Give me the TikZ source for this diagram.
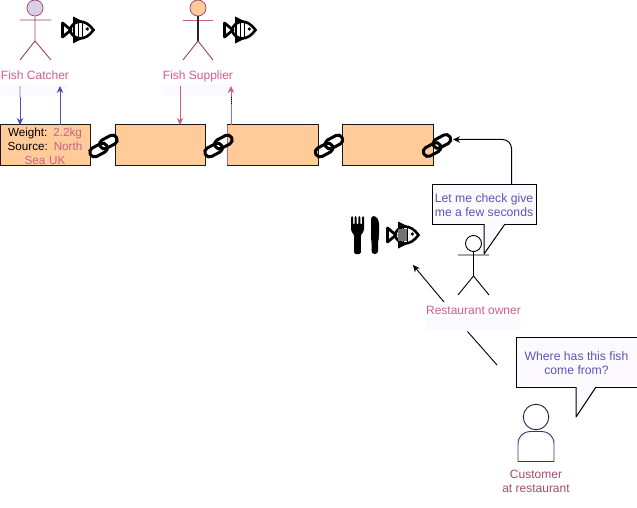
\documentclass[tikz,border=0pt]{standalone}
\usepackage{fontspec}
\setmainfont{Liberation Sans}
\usetikzlibrary{arrows.meta}
\definecolor{boxfill}{HTML}{FFCC99}
\definecolor{rolepink}{HTML}{CC5F8A}
\definecolor{speechblue}{HTML}{5A55B5}
\definecolor{arrowblue}{HTML}{4A4FB0}
\definecolor{faint}{HTML}{FDFAFF}
\definecolor{stickmix}{HTML}{9C3F6E}
\tikzset{
  x=1pt,y=-1pt,
  chainbox/.style={draw=black!90,line width=1pt,fill=boxfill,minimum width=90pt,minimum height=40pt,inner sep=0pt,outer sep=0pt,anchor=north west,font=\fontsize{11.7}{14}\selectfont,align=center,text width=90pt},
  rolelabel/.style={text=rolepink,font=\fontsize{12}{14}\selectfont,align=center,inner sep=0pt},
  speech/.style={draw=black,line width=1pt,fill=faint,inner sep=0pt,outer sep=0pt,anchor=north west,text=speechblue,font=\fontsize{12.2}{14.5}\selectfont,align=center},
  tip/.style={-{Stealth[length=7pt,width=6.5pt]}},
  conn/.style={line width=0.9pt,tip},
  stick/.style={line width=0.9pt},
  chainicon/.pic={
    \begin{scope}[rotate=28,line width=3pt,rounded corners=4.5pt,black]
      \draw (-15.5,-3.5) rectangle (3,6);
      \draw (-3,-6) rectangle (15.5,3.5);
    \end{scope}},
  fishicon/.pic={
    \draw[line width=2.8pt,line join=round] (-14.5,-7) -- (-6,0) -- (-14.5,7) -- cycle;
    \draw[line width=2.6pt] (-7,-1) .. controls (-3,-10) and (8,-12) .. (16.5,0) .. controls (8,12) and (-3,10) .. (-7,1);
    \draw[line width=1.5pt] (-3,-7) -- (-3,7) (1.3,-9) -- (1.3,9) (5.6,-9) -- (5.6,9);
    \fill (-4,-13.5) -- (7,-8) -- (-4,-7) -- cycle;
    \fill (-4,13.5) -- (7,8) -- (-4,7) -- cycle;
    \fill (10.3,-1) circle (1.8);},
  cutleryicon/.pic={
    \fill[rounded corners=1.5pt] (0,0) -- (2,0) -- (2,9) -- (3.6,9) -- (3.6,0) -- (5.7,0) -- (5.7,9) -- (7.3,9) -- (7.3,0) -- (9.4,0) -- (9.4,9) -- (11,9) -- (11,0) -- (13,0) -- (13,15) -- (9.8,19) -- (9.8,38) -- (3.2,38) -- (3.2,19) -- (0,15) -- cycle;
    \fill[rounded corners=3pt] (20,0) -- (25,0) -- (28,5) -- (28,22) -- (27,24) -- (27,38) -- (20.5,38) -- (20.5,24) -- (20,22) -- cycle;}
}
\begin{document}
\begin{tikzpicture}[x=1pt,y=-1pt]
\useasboundingbox (0,0) rectangle (637,508);
\fill[white] (0,0) rectangle (637,508);
% faint label backgrounds
\fill[faint] (1,84) rectangle (68,96);
\fill[faint] (163,84) rectangle (232,96);
\fill[faint] (426,318) rectangle (521,330);
% boxes
\node[chainbox] (boxA) at (0,125) {\rule{0pt}{11pt}Weight: \textcolor{rolepink}{2.2kg}\\Source: \textcolor{rolepink}{North}\\\textcolor{rolepink}{Sea UK}};
\node[chainbox] (boxB) at (115,125) {};
\node[chainbox,minimum width=91pt,text width=91pt] (boxC) at (227,125) {};
\node[chainbox,minimum width=91pt,text width=91pt] (boxD) at (342,125) {};
\draw[rolepink,line width=0.9pt] (boxC.north west) -- (boxC.south west);
% chain links
\pic (linkA) at (103.5,146) {chainicon};
\pic (linkB) at (218.5,146) {chainicon};
\pic (linkC) at (329,146) {chainicon};
\pic (linkD) at (437,145.5) {chainicon};
% stick figures
\node[circle,draw=stickmix,fill=rolepink!25!speechblue!28,line width=0.7pt,minimum size=16pt,inner sep=0pt] (headCatcher) at (35,8) {};
\coordinate (hipCatcher) at (35,41);
\coordinate (armLCatcher) at (20,20);
\coordinate (armRCatcher) at (51,20);
\coordinate (footLCatcher) at (20,60);
\coordinate (footRCatcher) at (51,60);
\draw[stick,stickmix] (headCatcher) -- (hipCatcher) (armLCatcher) -- (armRCatcher) (footLCatcher) -- (hipCatcher) -- (footRCatcher);
\node[circle,draw=stickmix,fill=boxfill,line width=0.7pt,minimum size=16pt,inner sep=0pt] (headSupplier) at (198,8) {};
\coordinate (hipSupplier) at (198,41);
\coordinate (armLSupplier) at (183,20);
\coordinate (armRSupplier) at (213,20);
\coordinate (footLSupplier) at (183,60);
\coordinate (footRSupplier) at (213,60);
\draw[stick,rolepink] (armLSupplier) -- (armRSupplier);
\draw[line width=1.2pt,black!85] (headSupplier) -- (hipSupplier);
\draw[stick,stickmix] (footLSupplier) -- (hipSupplier) -- (footRSupplier);
% fish
\pic (fishA) at (77,30) {fishicon};
\pic (fishB) at (239,30) {fishicon};
\pic (fishC) at (402,235) {fishicon};
\fill[black!55] (398,229) rectangle (407,241);
\pic (cutlery) at (351,216) {cutleryicon};
% labels
\node[rolelabel] (catcher) at (35,75) {Fish Catcher};
\node[rolelabel] (supplier) at (198,76) {Fish Supplier};
\node[rolelabel] (ownerlabel) at (473.5,310) {Restaurant owner};
\node[rolelabel,text=rolepink!80!black] (customerlabel) at (536,481) {Customer\\at restaurant};
% connectors to chain
\coordinate (catchDownTop) at (20,97);
\coordinate (catchDownEnd) at (20,125);
\coordinate (catchUpStart) at (60,125);
\coordinate (catchUpEnd) at (60,86);
\coordinate (supDownTop) at (180,86);
\coordinate (supDownEnd) at (180,125);
\coordinate (supUpStart) at (231,125);
\coordinate (supUpEnd) at (231,86);
\draw[line width=1.2pt,arrowblue!30] (20,86) -- (catchDownTop);
\draw[conn,arrowblue] (catchDownTop) -- (catchDownEnd);
\draw[conn,arrowblue] (catchUpStart) -- (catchUpEnd);
\draw[conn,rolepink] (supDownTop) -- (supDownEnd);
\draw[conn,rolepink] (supUpStart) -- (supUpEnd);
\draw[line width=0.9pt,black,dash pattern=on 1pt off 1pt] (231,97) -- (231,104);
% owner
\node[circle,draw=black,line width=0.9pt,minimum size=16pt,inner sep=0pt,fill=white] (headOwner) at (473.5,243.5) {};
\coordinate (hipOwner) at (473.5,276);
\coordinate (armLOwner) at (458,255);
\coordinate (armROwner) at (489,255);
\coordinate (footLOwner) at (458,295);
\coordinate (footROwner) at (489,295);
\draw[stick] (headOwner) -- (hipOwner) (armLOwner) -- (armROwner) (footLOwner) -- (hipOwner) -- (footROwner);
% speech bubbles
\node[speech,minimum width=104pt,minimum height=40pt] (ownerSpeech) at (432,184) {\rule{0pt}{11.5pt}Let me check give\\me a few seconds};
\coordinate (ownerTailA) at (484,224);
\coordinate (ownerTailTip) at (484,254);
\coordinate (ownerTailB) at (505,224);
\fill[faint] (ownerTailA) -- (ownerTailTip) -- (ownerTailB) -- cycle;
\draw[line width=1pt,line join=round] (ownerTailA) -- (ownerTailTip) -- (ownerTailB);
\node[speech,minimum width=121pt,minimum height=50pt] (customerSpeech) at (516,337) {\rule{0pt}{11.5pt}Where has this fish\\come from?};
\coordinate (custTailA) at (576,387);
\coordinate (custTailTip) at (576,417);
\coordinate (custTailB) at (596,387);
\fill[faint] (custTailA) -- (custTailTip) -- (custTailB) -- cycle;
\draw[line width=1pt,line join=round] (custTailA) -- (custTailTip) -- (custTailB);
% owner asks chain
\coordinate (bubbleTop) at (511.5,184);
\coordinate (chainEnd) at (453,139.5);
\draw[conn,line width=1pt,rounded corners=9pt] (bubbleTop) -- (bubbleTop |- chainEnd) -- (chainEnd);
% owner to food
\coordinate (ownerFoot) at (444,302);
\coordinate (foodEnd) at (413,265);
\draw[conn] (ownerFoot) -- (foodEnd);
\coordinate (custLineA) at (497,365);
\coordinate (custLineB) at (467.5,331.5);
\draw[line width=0.9pt] (custLineA) -- (custLineB);
% customer
\node[circle,draw=black!60!speechblue,line width=0.9pt,minimum size=25.5pt,inner sep=0pt] (headCustomer) at (536,417) {};
\draw[line width=0.9pt,draw=black!40!speechblue,line join=round] (518,461.5) -- (518,444) .. controls (518,436) and (524,431.5) .. (530,431.5) -- (542,431.5) .. controls (548,431.5) and (554,436) .. (554,444) -- (554,461.5) -- cycle;
\end{tikzpicture}
\end{document}
